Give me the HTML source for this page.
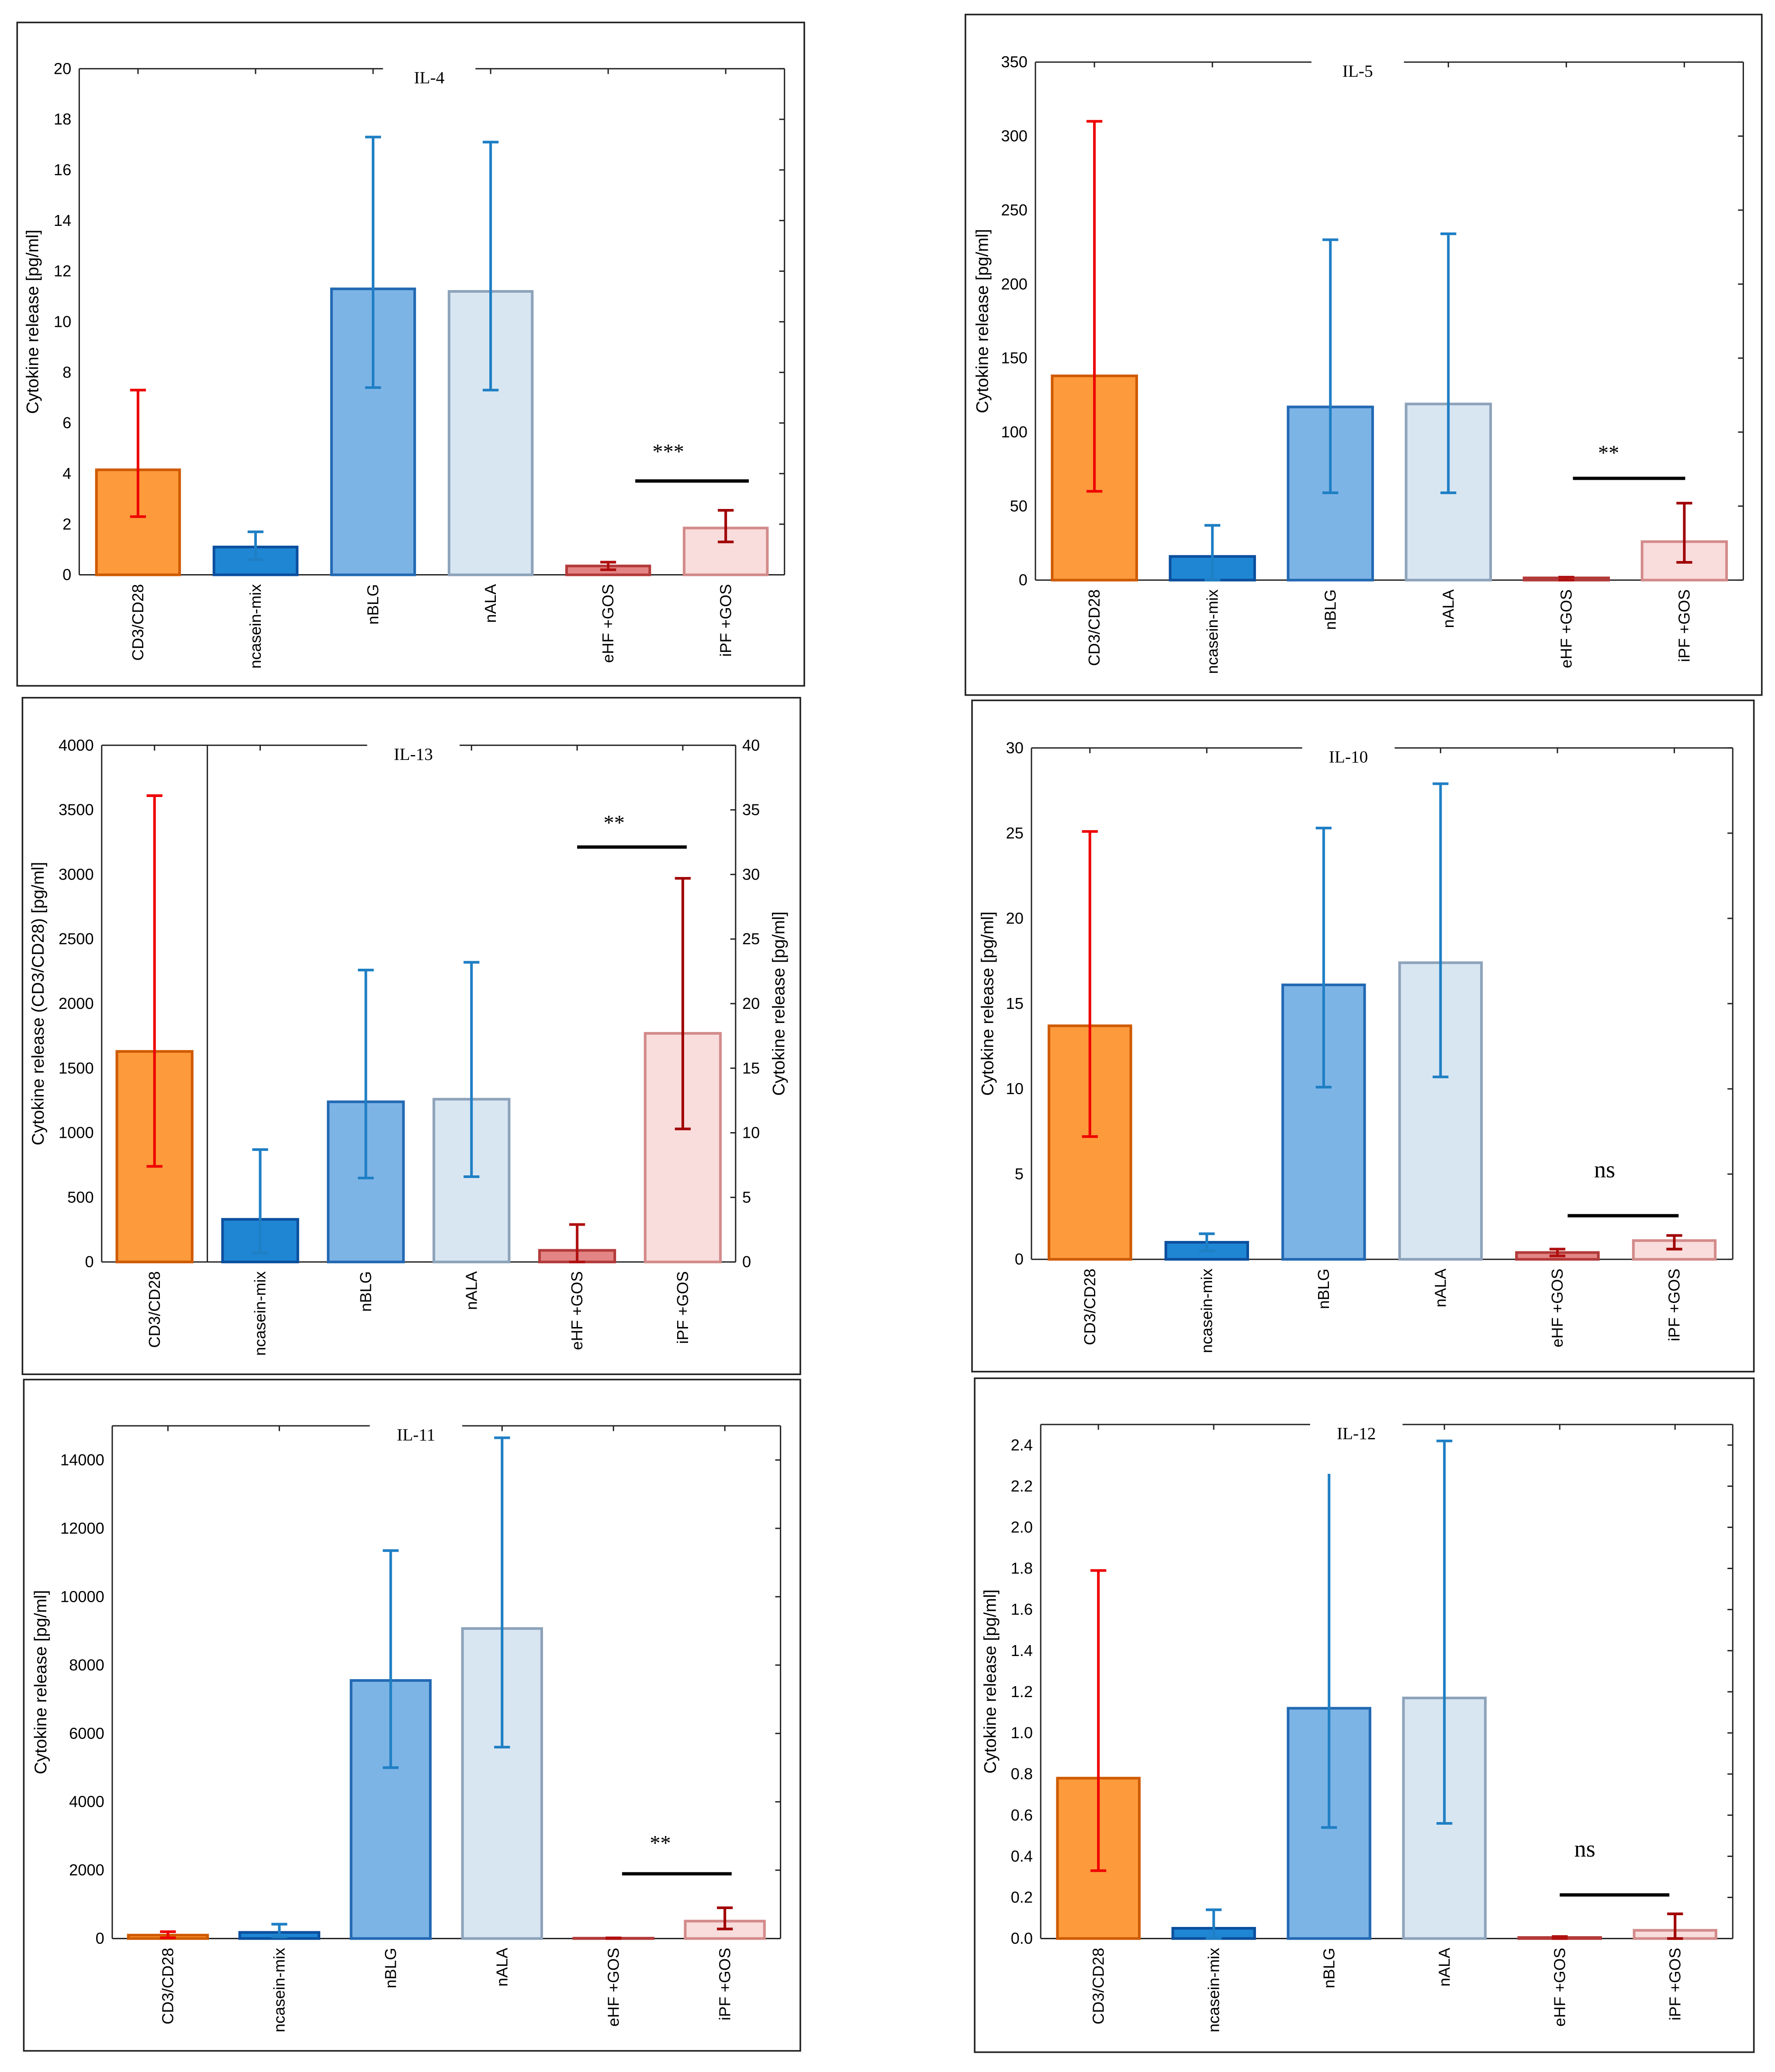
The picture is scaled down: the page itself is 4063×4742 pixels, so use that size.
<!DOCTYPE html>
<html><head><meta charset="utf-8"><style>
html,body{margin:0;padding:0;background:#fff}
svg{display:block}
text{font-family:"Liberation Sans",sans-serif}
.t{font-family:"Liberation Serif",serif}
</style></head><body>
<svg id="s" width="4063" height="4742" viewBox="0 0 1344 1568" preserveAspectRatio="none" xmlns="http://www.w3.org/2000/svg"></svg>
<script>
const cats=["CD3/CD28","ncasein-mix","nBLG","nALA","eHF +GOS","iPF +GOS"];
const il4Val=[4.15,1.1,11.3,11.2,0.35,1.85];
const il4Lo=[2.3,0.6,7.4,7.3,0.2,1.3];
const il4Hi=[7.3,1.7,17.3,17.1,0.5,2.55];
const il5Val=[138,16,117,119,1.5,26];
const il5Lo=[60,0,59,59,0,12];
const il5Hi=[310,37,230,234,2,52];
const il13Val=[1630,3.3,12.4,12.6,0.9,17.7];
const il13Lo=[740,0.7,6.5,6.6,0,10.3];
const il13Hi=[3610,8.7,22.6,23.2,2.9,29.7];
const il10Val=[13.7,1.0,16.1,17.4,0.4,1.1];
const il10Lo=[7.2,0.5,10.1,10.7,0.2,0.6];
const il10Hi=[25.1,1.5,25.3,27.9,0.6,1.4];
const il11Val=[100,180,7550,9070,10,510];
const il11Lo=[20,50,5000,5600,0,280];
const il11Hi=[200,420,11350,14650,20,900];
const il12Val=[0.78,0.05,1.12,1.17,0.005,0.04];
const il12Lo=[0.33,0,0.54,0.56,0,0];
const il12Hi=[1.79,0.14,2.26,2.42,0.01,0.12];
const il4Ticks=[0,2,4,6,8,10,12,14,16,18,20];
const il5Ticks=[0,50,100,150,200,250,300,350];
const il13LeftTicks=[0,500,1000,1500,2000,2500,3000,3500,4000];
const il13RightTicks=[0,5,10,15,20,25,30,35,40];
const il10Ticks=[0,5,10,15,20,25,30];
const il11Ticks=[0,2000,4000,6000,8000,10000,12000,14000];
const il12Ticks=[0,0.2,0.4,0.6,0.8,1.0,1.2,1.4,1.6,1.8,2.0,2.2,2.4];

const fills=["#fd9a3c","#1f86d4","#7db4e6","#d8e6f2","#e38585","#f9dcdc"];
const strokes=["#cf5a00","#0b4f9e","#2369b3","#8da3ba","#b33a3a","#d38a8a"];
const errs=["#ee0000","#1f7fc4","#1f7fc4","#1f7fc4","#b01010","#a00000"];
const S=document.getElementById('s');
const NS="http://www.w3.org/2000/svg";
function mk(tag,attrs,parent,txt){const e=document.createElementNS(NS,tag);for(const k in attrs)e.setAttribute(k,attrs[k]);if(txt!==undefined)e.textContent=txt;(parent||S).appendChild(e);return e;}

function panel(p){
  const g=mk('g',{});
  
  
  const fr=mk('rect',{x:p.ox,y:p.oy,width:p.ow,height:p.oh,fill:'none',stroke:'#222','stroke-width':1.2},g);
  
  const [x0,y0,x1,y1]=p.plot;
  const yL=v=>y1-(v/p.max)*(y1-y0);
  const yR=v=>y1-(v/(p.rmax||p.max))*(y1-y0);
  mk('line',{x1:x0,y1:y0,x2:x0,y2:y1,stroke:'#222'},g);
  mk('line',{x1:x1,y1:y0,x2:x1,y2:y1,stroke:'#222'},g);
  mk('line',{x1:x0,y1:y1,x2:x1,y2:y1,stroke:'#222'},g);
  mk('line',{x1:x0,y1:y0,x2:p.tx-35,y2:y0,stroke:'#222'},g);
  mk('line',{x1:p.tx+35,y1:y0,x2:x1,y2:y0,stroke:'#222'},g);
  if(p.sep) mk('line',{x1:p.sep,y1:y0,x2:p.sep,y2:y1,stroke:'#222'},g);
  const t=mk('text',{x:p.tx,y:y0+11,'font-size':13,'text-anchor':'middle',class:'t'},g,p.title);
  
  p.ticks.forEach(v=>{
    const y=yL(v);
    mk('line',{x1:x1,y1:y,x2:x1-4,y2:y,stroke:'#222'},g);
    const tl=mk('text',{x:x0-6,y:y+4,'font-size':12,'text-anchor':'end'},g,v.toFixed(p.dec||0));
    
  });
  if(p.rticks) p.rticks.forEach(v=>{
    const y=yR(v);
    const tl=mk('text',{x:x1+5,y:y+4,'font-size':12,'text-anchor':'start'},g,String(v));
    
  });
  const yl=mk('text',{transform:`translate(${p.ylx},${(y0+y1)/2}) rotate(-90)`,'font-size':13,'text-anchor':'middle'},g,p.ylabel);
  
  if(p.rlabel){const rl=mk('text',{transform:`translate(${p.rlx},${(y0+y1)/2}) rotate(-90)`,'font-size':13,'text-anchor':'middle'},g,p.rlabel);
    }
  const step=(x1-x0)/6;
  cats.forEach((c,i)=>{
    const cx=x0+step*(i+0.5);
    const sc=(p.rticks&&i>0)?yR:yL;
    if(Math.abs(cx-p.tx)>36) mk('line',{x1:cx,y1:y0,x2:cx,y2:y0+4,stroke:'#222'},g);
    const yv=sc(p.val[i]);
    const b=mk('rect',{x:cx-p.bw/2,y:yv,width:p.bw,height:y1-yv,fill:fills[i],stroke:strokes[i],'stroke-width':2},g);
    
    
    const lo=sc(p.lo[i]),hi=sc(p.hi[i]);
    const eg=mk('g',{stroke:errs[i],'stroke-width':2},g);
    
    mk('line',{x1:cx,y1:lo,x2:cx,y2:hi},eg);
    mk('line',{x1:cx-6,y1:lo,x2:cx+6,y2:lo},eg);
    if(!(p.nocap&&p.nocap.includes(i))) mk('line',{x1:cx-6,y1:hi,x2:cx+6,y2:hi},eg);
    const xl=mk('text',{transform:`translate(${cx+4},${y1+7}) rotate(-90)`,'font-size':12,'text-anchor':'end'},g,c);
    
  });
  const sg=mk('text',{x:p.sig[0],y:p.sig[1],'font-size':p.sigT==='ns'?18:16,'text-anchor':'middle',class:'t'},g,p.sigT);
  
  const sl=mk('line',{x1:p.sl[0],y1:p.sl[2],x2:p.sl[1],y2:p.sl[2],stroke:'#000','stroke-width':2.5},g);
  
}
const yl1="Cytokine release [pg/ml]";
panel({name:'il-4',title:'IL-4',ox:13,oy:17,ow:596,oh:502,plot:[60,52,594,435],max:20,ticks:il4Ticks,tx:325,ylx:29,ylabel:yl1,bw:63,val:il4Val,lo:il4Lo,hi:il4Hi,sig:[506,347],sigT:'***',sl:[481,567,364]});
panel({name:'il-5',title:'IL-5',ox:731,oy:11,ow:603,oh:515,plot:[784,47,1320,439],max:350,ticks:il5Ticks,tx:1028,ylx:748,ylabel:yl1,bw:64,val:il5Val,lo:il5Lo,hi:il5Hi,sig:[1218,348],sigT:'**',sl:[1191,1276,362]});
panel({name:'il-13',title:'IL-13',ox:17,oy:528,ow:589,oh:512,plot:[77,564,557,955],max:4000,rmax:40,ticks:il13LeftTicks,rticks:il13RightTicks,sep:157,tx:313,ylx:33,ylabel:"Cytokine release (CD3/CD28) [pg/ml]",rlx:594,rlabel:yl1,bw:57,val:il13Val,lo:il13Lo,hi:il13Hi,sig:[465,628],sigT:'**',sl:[437,520,641]});
panel({name:'il-10',title:'IL-10',ox:736,oy:530,ow:592,oh:508,plot:[781,566,1312,953],max:30,ticks:il10Ticks,tx:1021,ylx:752,ylabel:yl1,bw:62,val:il10Val,lo:il10Lo,hi:il10Hi,sig:[1215,891],sigT:'ns',sl:[1187,1271,920]});
panel({name:'il-11',title:'IL-11',ox:18,oy:1044,ow:588,oh:508,plot:[85,1079,591,1467],max:15000,ticks:il11Ticks,tx:315,ylx:35,ylabel:yl1,bw:60,val:il11Val,lo:il11Lo,hi:il11Hi,sig:[500,1400],sigT:'**',sl:[471,554,1418]});
panel({name:'il-12',title:'IL-12',ox:738,oy:1043,ow:590,oh:510,plot:[788,1078,1312,1467],max:2.5,dec:1,ticks:il12Ticks,tx:1027,ylx:754,ylabel:yl1,bw:62,val:il12Val,lo:il12Lo,hi:il12Hi,nocap:[2],sig:[1200,1405],sigT:'ns',sl:[1181,1264,1434]});
</script>
</body></html>
